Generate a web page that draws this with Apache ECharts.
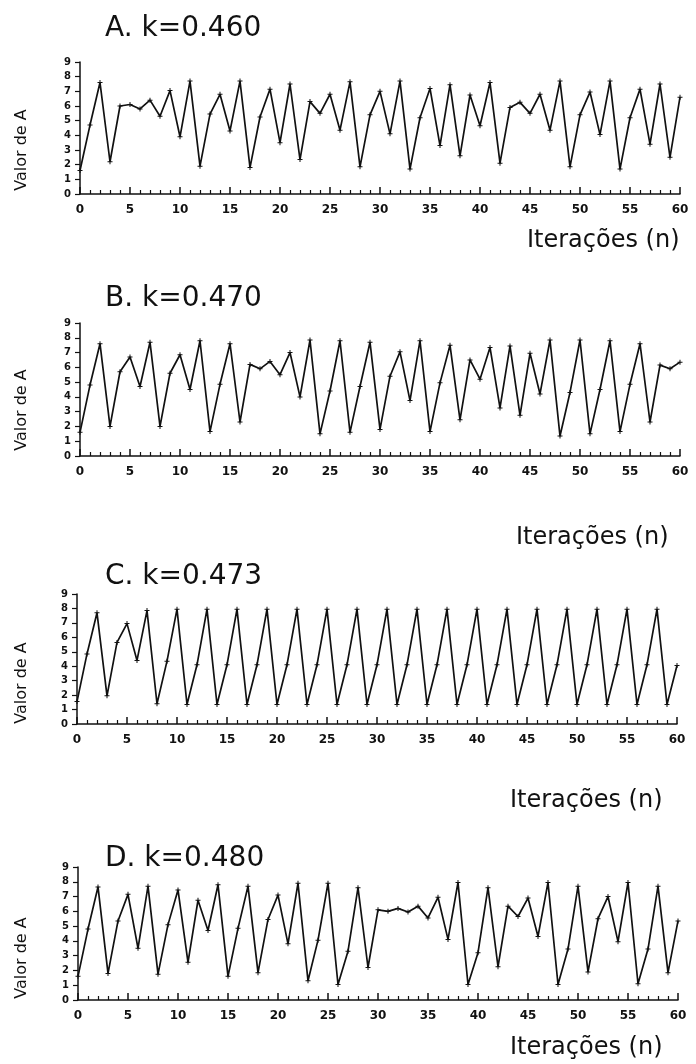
<!DOCTYPE html>
<html>
<head>
<meta charset="utf-8">
<script src="https://cdn.jsdelivr.net/npm/echarts@6/dist/echarts.min.js"></script>
<style>
html,body{margin:0;padding:0;background:#fff;}
#chart{width:696px;height:1064px;}
</style>
</head>
<body>
<div id="chart"></div>
<script>
// Iterations n = 0..60
const iterations = Array.from({length: 61}, (_, i) => i);

const panelTitles = ['A. k=0.460', 'B. k=0.470', 'C. k=0.473', 'D. k=0.480'];
const yTicks = [0, 1, 2, 3, 4, 5, 6, 7, 8, 9];
const xTicks = [0, 5, 10, 15, 20, 25, 30, 35, 40, 45, 50, 55, 60];

const valuesA = [
  1.6, 4.7, 7.6, 2.2, 6.0, 6.1, 5.8, 6.4, 5.3, 7.05,
  3.9, 7.7, 1.9, 5.45, 6.8, 4.3, 7.7, 1.8, 5.25, 7.15,
  3.5, 7.5, 2.35, 6.3, 5.5, 6.8, 4.35, 7.65, 1.85, 5.4,
  7.0, 4.1, 7.7, 1.7, 5.2, 7.2, 3.3, 7.45, 2.6, 6.75,
  4.65, 7.6, 2.1, 5.9, 6.25, 5.5, 6.8, 4.35, 7.7, 1.85,
  5.4, 6.95, 4.05, 7.7, 1.7, 5.2, 7.15, 3.4, 7.5, 2.5,
  6.6
];

const valuesB = [
  1.6, 4.8, 7.6, 2.0, 5.7, 6.7, 4.7, 7.7, 2.0, 5.6,
  6.85, 4.5, 7.8, 1.65, 4.85, 7.6, 2.3, 6.2, 5.9, 6.4,
  5.5, 7.0, 4.0, 7.85, 1.5, 4.4, 7.8, 1.6, 4.7, 7.7,
  1.8, 5.4, 7.05, 3.75, 7.8, 1.65, 4.95, 7.5, 2.45, 6.5,
  5.2, 7.35, 3.25, 7.45, 2.75, 6.95, 4.2, 7.85, 1.35, 4.3,
  7.85, 1.5, 4.5, 7.8, 1.65, 4.85, 7.6, 2.3, 6.15, 5.9,
  6.35
];

const valuesC = [
  1.55, 4.85, 7.7, 1.95, 5.65, 6.95, 4.4, 7.85, 1.4, 4.35,
  7.95, 1.35, 4.1, 7.95, 1.35, 4.1, 7.95, 1.35, 4.1, 7.95,
  1.35, 4.1, 7.95, 1.35, 4.1, 7.95, 1.35, 4.1, 7.95, 1.35,
  4.1, 7.95, 1.35, 4.1, 7.95, 1.35, 4.1, 7.95, 1.35, 4.1,
  7.95, 1.35, 4.1, 7.95, 1.35, 4.1, 7.95, 1.35, 4.1, 7.95,
  1.35, 4.1, 7.95, 1.35, 4.1, 7.95, 1.35, 4.1, 7.95, 1.35,
  4.05
];

const valuesD = [
  1.6, 4.8, 7.65, 1.8, 5.35, 7.15, 3.5, 7.7, 1.75, 5.1,
  7.45, 2.55, 6.75, 4.7, 7.8, 1.6, 4.85, 7.7, 1.85, 5.45,
  7.1, 3.8, 7.9, 1.3, 4.05, 7.9, 1.05, 3.3, 7.6, 2.2,
  6.1, 6.0, 6.2, 5.95, 6.35, 5.55, 6.95, 4.1, 7.95, 1.05,
  3.2, 7.6, 2.25, 6.35, 5.65, 6.9, 4.3, 7.95, 1.05, 3.45,
  7.7, 1.9, 5.5, 7.0, 3.95, 7.95, 1.1, 3.45, 7.7, 1.85,
  5.35
];

const panelValues = [valuesA, valuesB, valuesC, valuesD];

// Plot boxes for each panel (left/top/width/height in px)
const grids = [
  {left: 80, top: 62, width: 600, height: 132},
  {left: 80, top: 323, width: 600, height: 133},
  {left: 77, top: 594, width: 600, height: 130},
  {left: 78, top: 867, width: 600, height: 133}
];
const titlePos = [{x: 100, y: 10}, {x: 100, y: 280}, {x: 100, y: 558}, {x: 100, y: 840}];
// left edge / vertical centre of the "Iterações (n)" captions
const xNamePos = [{x: 527, y: 243}, {x: 516, y: 540}, {x: 510, y: 803}, {x: 510, y: 1050}];
const yNamePos = [{x: 22, y: 150}, {x: 22, y: 410}, {x: 22, y: 683}, {x: 22, y: 958}];

const FONT = 'DejaVu Sans';
const INK = '#111';
const crossSymbol = 'path://M1.6,0h0.8v1.6h1.6v0.8h-1.6v1.6h-0.8v-1.6h-1.6v-0.8h1.6z';

const option = {
  backgroundColor: '#fff',
  animation: false,
  title: panelTitles.map((t, i) => ({
    text: t,
    left: titlePos[i].x,
    top: titlePos[i].y,
    textStyle: {fontFamily: FONT, fontSize: 28, fontWeight: 'normal', color: INK}
  })),
  grid: grids.map(g => Object.assign({containLabel: false}, g)),
  xAxis: grids.map((g, i) => ({
    type: 'value',
    gridIndex: i,
    min: xTicks[0],
    max: xTicks[xTicks.length - 1],
    interval: 5,
    axisLine: {show: true, onZero: false, lineStyle: {color: INK, width: 1.5}},
    axisTick: {show: true, inside: true, length: 7, lineStyle: {color: INK, width: 1.5}},
    minorTick: {show: true, splitNumber: 5, length: 4, lineStyle: {color: INK, width: 1.2}},
    splitLine: {show: false},
    axisLabel: {fontFamily: FONT, fontSize: 12, fontWeight: 'bold', color: INK, margin: 10}
  })),
  yAxis: grids.map((g, i) => ({
    type: 'value',
    gridIndex: i,
    min: yTicks[0],
    max: yTicks[yTicks.length - 1],
    interval: 1,
    axisLine: {show: true, lineStyle: {color: INK, width: 1.5}},
    axisTick: {show: true, length: 5, lineStyle: {color: INK, width: 1.2}},
    splitLine: {show: false},
    axisLabel: {fontFamily: FONT, fontSize: 10, fontWeight: 'bold', color: INK, margin: 9}
  })),
  graphic: [
    ...panelTitles.map((t, i) => ({
      type: 'text',
      left: xNamePos[i].x,
      top: xNamePos[i].y - 14,
      style: {text: 'Iterações (n)', fontFamily: FONT, fontSize: 24, fill: INK}
    })),
    ...panelTitles.map((t, i) => ({
      type: 'text',
      x: yNamePos[i].x,
      y: yNamePos[i].y,
      rotation: Math.PI / 2,
      style: {text: 'Valor de A', fontFamily: FONT, fontSize: 16, fill: INK, align: 'center', verticalAlign: 'middle'}
    }))
  ],
  series: panelValues.map((vals, i) => ({
    type: 'line',
    xAxisIndex: i,
    yAxisIndex: i,
    data: iterations.map((n, j) => [n, vals[j]]),
    symbol: crossSymbol,
    symbolSize: 5,
    showSymbol: true,
    itemStyle: {color: INK},
    lineStyle: {color: INK, width: 1.7},
    emphasis: {disabled: true}
  }))
};

const chart = echarts.init(document.getElementById('chart'), null, {renderer: 'canvas'});
chart.setOption(option);
</script>
</body>
</html>
